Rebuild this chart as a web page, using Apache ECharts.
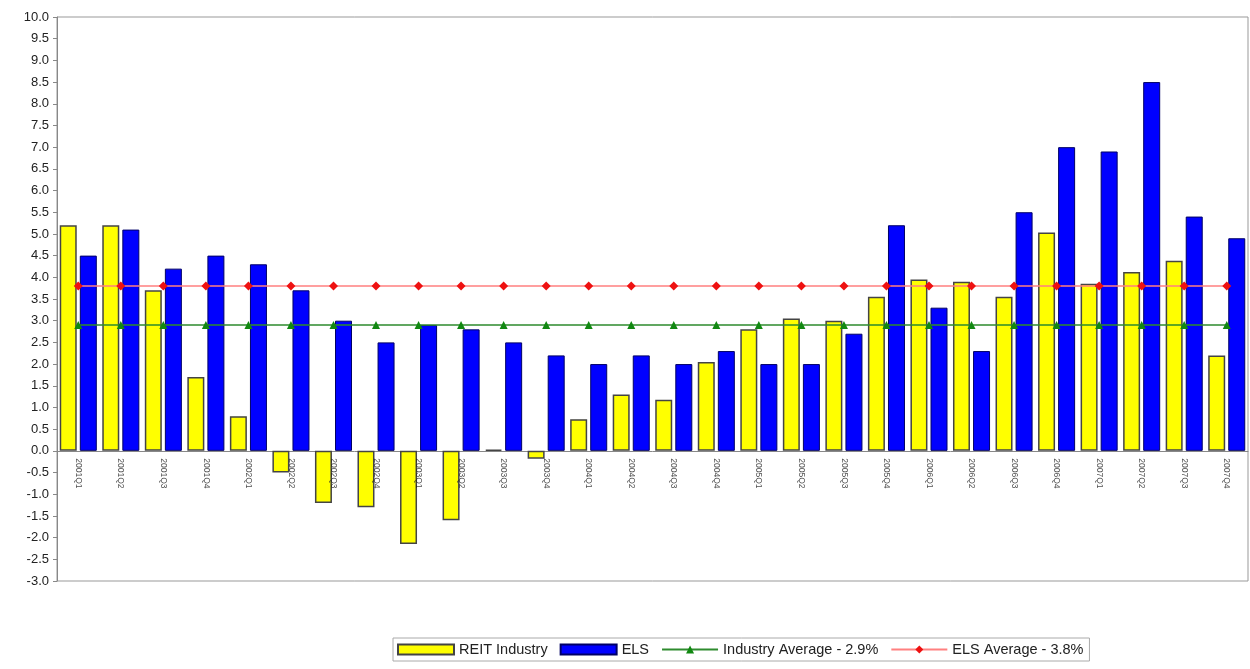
<!DOCTYPE html>
<html>
<head>
<meta charset="utf-8">
<script src="https://cdn.jsdelivr.net/npm/echarts@6/dist/echarts.min.js"></script>
<style>
  html, body { margin: 0; padding: 0; background: #fff; }
  #chart { width: 1250px; height: 669px; }
</style>
</head>
<body>
<div id="chart"></div>
<script>
const quarters = [
  '2001Q1', '2001Q2', '2001Q3', '2001Q4', '2002Q1', '2002Q2', '2002Q3', '2002Q4',
  '2003Q1', '2003Q2', '2003Q3', '2003Q4', '2004Q1', '2004Q2', '2004Q3', '2004Q4',
  '2005Q1', '2005Q2', '2005Q3', '2005Q4', '2006Q1', '2006Q2', '2006Q3', '2006Q4',
  '2007Q1', '2007Q2', '2007Q3', '2007Q4'
];
const reitIndustry = [
  5.2, 5.2, 3.7, 1.7, 0.8, -0.5, -1.2, -1.3,
  -2.15, -1.6, 0.03, -0.18, 0.73, 1.3, 1.18, 2.05,
  2.8, 3.05, 3.0, 3.55, 3.95, 3.9, 3.55, 5.03,
  3.85, 4.12, 4.38, 2.2
];
const els = [
  4.5, 5.1, 4.2, 4.5, 4.3, 3.7, 3.0, 2.5,
  2.9, 2.8, 2.5, 2.2, 2.0, 2.2, 2.0, 2.3,
  2.0, 2.0, 2.7, 5.2, 3.3, 2.3, 5.5, 7.0,
  6.9, 8.5, 5.4, 4.9
];
const industryAvg = 2.9;
const elsAvg = 3.8;

const chart = echarts.init(document.getElementById('chart'));

// average lines: same value for every quarter
const industryLine = quarters.map(() => industryAvg);
const elsLine = quarters.map(() => elsAvg);
// quarter labels sit on the zero line, like excel does it
const zeroLabels = quarters.map(q => [q, 0]);

chart.setOption({
  animation: false,
  textStyle: { fontFamily: 'Liberation Sans, Arial, sans-serif' },
  grid: {
    left: 57, right: 2, top: 17, bottom: 88,
    show: true, borderColor: '#999', borderWidth: 1
  },
  legend: {
    left: 393, top: 638,
    itemGap: 12,
    itemWidth: 56, itemHeight: 10,
    borderColor: '#aaa', borderWidth: 1,
    padding: [4, 6, 4, 4],
    textStyle: { fontSize: 14.5, color: '#222' },
    data: [
      { name: 'REIT Industry', icon: 'rect' },
      { name: 'ELS', icon: 'rect' },
      'Industry Average - ' + industryAvg + '%',
      'ELS Average - ' + elsAvg + '%'
    ]
  },
  xAxis: {
    type: 'category',
    data: quarters,
    axisLine: { onZero: true, lineStyle: { color: '#888' } },
    axisTick: { show: false },
    axisLabel: { show: false }
  },
  yAxis: {
    type: 'value',
    min: -3, max: 10, interval: 0.5,
    axisLine: { show: true, lineStyle: { color: '#888' } },
    axisTick: { show: true, length: 4, lineStyle: { color: '#888' } },
    splitLine: { show: false },
    axisLabel: {
      fontSize: 13, color: '#222', margin: 8,
      formatter: v => v.toFixed(1)
    }
  },
  series: [
    {
      name: 'REIT Industry',
      type: 'bar',
      data: reitIndustry,
      barWidth: 17,
      barGap: '18%',
      itemStyle: { color: '#ffff00', borderColor: '#444', borderWidth: 1.5 }
    },
    {
      name: 'ELS',
      type: 'bar',
      data: els,
      barWidth: 17,
      itemStyle: { color: '#0000ff', borderColor: '#000066', borderWidth: 1 }
    },
    {
      name: 'Industry Average - ' + industryAvg + '%',
      type: 'line',
      data: industryLine,
      symbol: 'triangle',
      symbolSize: 8,
      lineStyle: { color: '#2e8b2e', width: 1.5 },
      itemStyle: { color: '#118811' },
      z: 5
    },
    {
      name: 'ELS Average - ' + elsAvg + '%',
      type: 'line',
      data: elsLine,
      symbol: 'diamond',
      symbolSize: 9,
      lineStyle: { color: '#ff8080', width: 1.5 },
      itemStyle: { color: '#ee1111' },
      z: 5
    },
    {
      name: 'quarterLabels',
      type: 'scatter',
      data: zeroLabels,
      symbol: 'circle',
      symbolSize: 1,
      itemStyle: { color: 'rgba(0,0,0,0)' },
      silent: true,
      z: 6,
      label: {
        show: true,
        position: 'bottom',
        distance: 7,
        rotate: -90,
        align: 'left',
        verticalAlign: 'middle',
        fontSize: 8.5,
        color: '#222',
        formatter: p => p.value[0]
      }
    }
  ]
});
</script>
</body>
</html>
